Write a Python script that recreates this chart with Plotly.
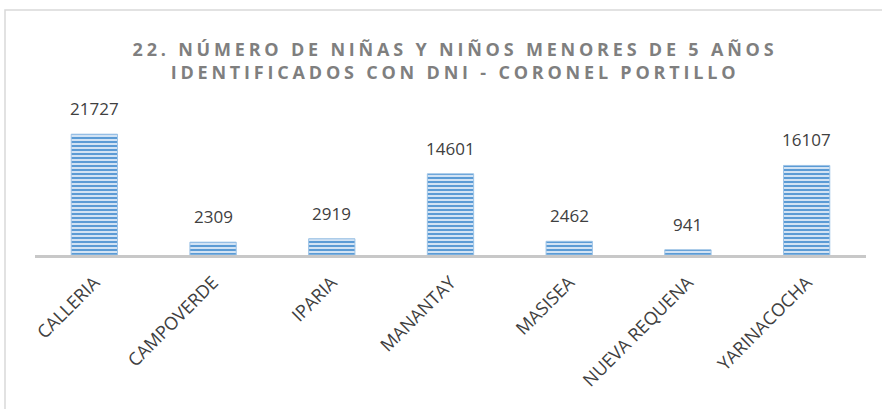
import plotly.graph_objects as go

# Districts of Coronel Portillo and children under 5 with DNI
districts = ["CALLERIA", "CAMPOVERDE", "IPARIA", "MANANTAY", "MASISEA",
             "NUEVA REQUENA", "YARINACOCHA"]
children = [21727, 2309, 2919, 14601, 2462, 941, 16107]

title_text = ("22. NÚMERO DE NIÑAS Y NIÑOS MENORES DE 5 AÑOS<br>"
              "IDENTIFICADOS CON DNI - CORONEL PORTILLO")

W, H = 882, 409
M_L, M_R, M_T, M_B = 35, 16, 116, 154
Y_MAX = 25000

fig = go.Figure(
    go.Bar(
        x=districts,
        y=children,
        width=0.39,
        marker=dict(
            color="#cfe0f3",
            line=dict(color="#9dc3e6", width=1),
            pattern=dict(shape="-", fgcolor="#5b9bd5", bgcolor="#d2e3f4",
                         size=4, solidity=0.5, fgopacity=1),
        ),
        hoverinfo="x+y",
    )
)

# value labels above each bar
for d, v in zip(districts, children):
    fig.add_annotation(
        x=d, y=v, text=str(v), showarrow=False,
        yanchor="bottom", yshift=12,
        font=dict(family="Open Sans", size=17, color="#404040"),
    )

# chart-area frame (only its top and left edges fall inside the page)
pw = W - M_L - M_R
ph = H - M_T - M_B
fig.add_shape(
    type="rect", xref="paper", yref="paper",
    x0=(5 - M_L) / pw, x1=(W + 20 - M_L) / pw,
    y0=-(H + 20 - M_T - ph) / ph, y1=1 + (M_T - 10) / ph,
    line=dict(color="#d9d9d9", width=1.5), layer="below",
)

fig.update_layout(
    width=W, height=H,
    margin=dict(l=M_L, r=M_R, t=M_T, b=M_B),
    paper_bgcolor="white", plot_bgcolor="white",
    showlegend=False,
    title=dict(
        text=title_text, x=455 / W, xanchor="center",
        y=1 - 56 / H, yanchor="top",
        font=dict(family="Open Sans", size=18, color="#7f7f7f", weight="bold"),
    ),
    xaxis=dict(
        showline=True, linecolor="#c8c8c8", linewidth=3,
        ticks="", tickangle=-45, ticklabelstandoff=7,
        tickfont=dict(family="Open Sans", size=18, color="#404040"),
        showgrid=False, zeroline=False,
    ),
    yaxis=dict(
        range=[0, Y_MAX], visible=False, showgrid=False, zeroline=False,
    ),
)

spacing_js = """
document.querySelectorAll('.gtitle').forEach(function (t) {
  t.style.letterSpacing = '3.8px';
});
"""

fig.write_html("out.html", post_script=spacing_js)
